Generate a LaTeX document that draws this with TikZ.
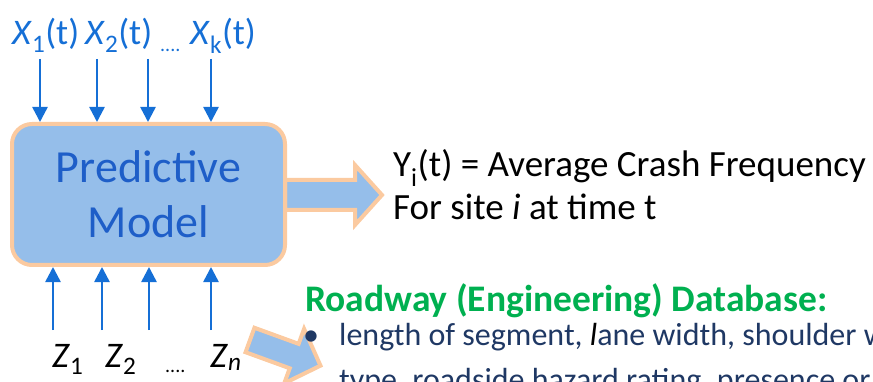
\documentclass[tikz,border=0pt]{standalone}
\usepackage{fontspec}
\setmainfont{Carlito}
\usetikzlibrary{arrows.meta}

\definecolor{boxfill}{RGB}{149,190,234}
\definecolor{boxline}{RGB}{251,202,160}
\definecolor{boxtext}{RGB}{30,94,200}
\definecolor{arrowblue}{RGB}{21,111,214}
\definecolor{navy}{RGB}{31,56,100}
\definecolor{dbgreen}{RGB}{0,176,80}

\tikzset{
  inarrow/.style={arrowblue, line width=2.5pt, -{Triangle[length=15pt,width=15pt]}},
  bigarrow/.style={fill=boxfill, draw=boxline, line width=4pt, line join=miter},
  lab/.style={anchor=base west, inner sep=0pt, font=\fontsize{36}{43}\selectfont},
  txt/.style={anchor=base west, inner sep=0pt, font=\fontsize{37}{44}\selectfont},
}
% length, head length, shaft half width, head half width
\newcommand{\blockarrow}[4]{%
  \draw[bigarrow] (0,-#3) -- (#1-#2,-#3) -- (#1-#2,-#4) -- (#1,0)
    -- (#1-#2,#4) -- (#1-#2,#3) -- (0,#3) -- cycle;}

\begin{document}
\begin{tikzpicture}[x=1pt,y=-1pt]
\useasboundingbox (0,0) rectangle (873,382);
\clip (0,0) rectangle (873,382);

% output arrow, behind the box
\begin{scope}[shift={(285,195)}]
  \blockarrow{97}{27}{15}{30}
\end{scope}
% arrow to the database
\begin{scope}[shift={(250,340)}, rotate=-20]
  \blockarrow{75}{28}{13}{29}
\end{scope}

\node[fill=boxfill, draw=boxline, line width=4pt, rounded corners=20pt,
  minimum width=273pt, minimum height=141pt, align=center, text=boxtext,
  font=\fontsize{46}{55}\selectfont] (model) at (148.5,194.5) {Predictive\\Model};

% time-varying inputs
\node[lab, arrowblue] (xone) at (12,45) {\textit{X}\textsubscript{1}(t)};
\node[lab, arrowblue] (xtwo) at (85,45) {\textit{X}\textsubscript{2}(t)};
\node[lab, arrowblue, font=\fontsize{20}{24}\selectfont] (xdots) at (160,52) {....};
\node[lab, arrowblue] (xk) at (190,45) {\textit{X}\textsubscript{k}(t)};
\coordinate (xa) at (40,59);
\coordinate (xb) at (97,59);
\coordinate (xc) at (148,59);
\coordinate (xd) at (211,59);
\foreach \p in {xa,xb,xc,xd}
  \draw[inarrow] (\p) -- (\p |- model.north);

% fixed inputs
\node[lab] (zone) at (52,367) {\textit{Z}\textsubscript{1}};
\node[lab] (ztwo) at (105,367) {\textit{Z}\textsubscript{2}};
\node[lab, font=\fontsize{20}{24}\selectfont] (zdots) at (165,372) {....};
\node[lab] (zn) at (210,367) {\textit{Z}\textsubscript{\textit{n}}};
\coordinate (za) at (53,330);
\coordinate (zb) at (102,330);
\coordinate (zc) at (149,330);
\coordinate (zd) at (211,330);
\foreach \p in {za,zb,zc,zd}
  \draw[inarrow] (\p) -- (\p |- model.south);

% output
\node[txt] (yline) at (393,177) {Y\textsubscript{i}(t) = Average Crash Frequency};
\node[txt] (siteline) at (393,220) {For site \textit{i} at time t};

% database
\node[txt, text=dbgreen, font=\bfseries\fontsize{37.5}{45}\selectfont] (dbhead) at (305,311) {Roadway (Engineering) Database:};
\node[txt, text=navy, font=\fontsize{32}{40}\selectfont] (bullet) at (303,345) {•};
\node[txt, text=navy, font=\fontsize{32}{40}\selectfont] (dbone) at (339,345)
  {length of segment, {\color{black}\textit{l}}ane width, shoulder w};
\node[txt, text=navy, font=\fontsize{32}{40}\selectfont] (dbtwo) at (339,390)
  {type, roadside hazard rating, presence or};
\end{tikzpicture}
\end{document}
